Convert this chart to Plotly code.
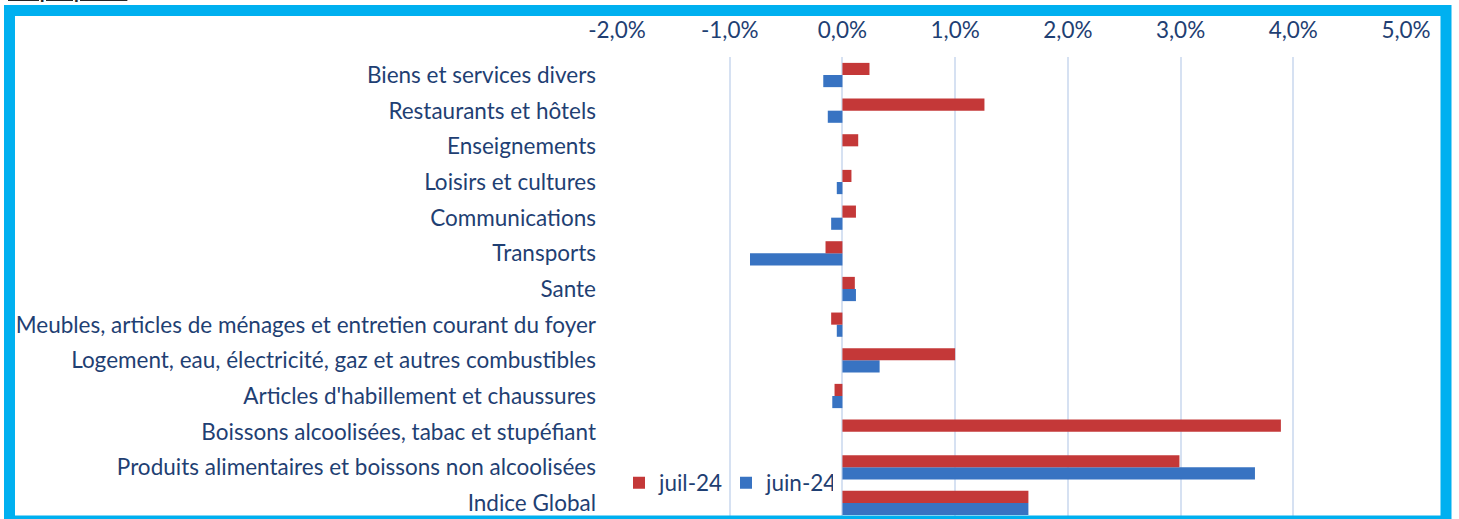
import plotly.graph_objects as go

categories = [
    "Indice Global",
    "Produits alimentaires et boissons non alcoolisées",
    "Boissons alcoolisées, tabac et stupéfiant",
    "Articles d'habillement et chaussures",
    "Logement, eau, électricité, gaz et autres combustibles",
    "Meubles, articles de ménages et entretien courant du foyer",
    "Sante",
    "Transports",
    "Communications",
    "Loisirs et cultures",
    "Enseignements",
    "Restaurants et hôtels",
    "Biens et services divers",
]
juil_24 = [1.65, 2.99, 3.89, -0.07, 1.00, -0.10, 0.11, -0.15, 0.12, 0.08, 0.14, 1.26, 0.24]
juin_24 = [1.65, 3.66, 0.00, -0.09, 0.33, -0.05, 0.12, -0.82, -0.10, -0.05, 0.00, -0.13, -0.17]
tick_vals = [-2, -1, 0, 1, 2, 3, 4, 5]
tick_text = ["-2,0%", "-1,0%", "0,0%", "1,0%", "2,0%", "3,0%", "4,0%", "5,0%"]

TEXT = "#1F3F73"
FONT = "Lato"
FS = 22.5

fig = go.Figure()
fig.add_trace(go.Bar(y=categories, x=juin_24, orientation="h", name="juin-24",
                     marker=dict(color="#3873C2", line=dict(width=0)), legendrank=2))
fig.add_trace(go.Bar(y=categories, x=juil_24, orientation="h", name="juil-24",
                     marker=dict(color="#C43838", line=dict(width=0)), legendrank=1))

W, H = 1459, 519
L, R, T, B = 617, 53, 57, 0
pw = W - L - R
ph = H - T - B

fig.update_layout(
    width=W, height=H,
    margin=dict(l=L, r=R, t=T, b=B, autoexpand=False),
    paper_bgcolor="white", plot_bgcolor="white",
    barmode="group", bargap=0.32, bargroupgap=0,
    font=dict(family=FONT, size=FS, color=TEXT),
    showlegend=True,
    legend=dict(orientation="h", x=(619 - L) / pw, xanchor="left", y=(H - 483 - B) / ph, yanchor="middle",
                font=dict(size=FS, color=TEXT), bgcolor="rgba(0,0,0,0)", itemwidth=30,
                entrywidth=62, entrywidthmode="pixels", traceorder="normal"),
    xaxis=dict(side="top", range=[-2, 5], tickvals=tick_vals, ticktext=tick_text,
               showgrid=True, gridcolor="#D6E1F2", gridwidth=2, zeroline=False,
               showline=False, ticks="", ticklabelstandoff=14,
               tickfont=dict(size=FS, color=TEXT), automargin=False),
    yaxis=dict(type="category", range=[-0.449, 12.505], showgrid=False, zeroline=False,
               showline=False, ticks="", ticklabelstandoff=20,
               tickfont=dict(size=FS, color=TEXT), automargin=False),
)

# outer frame
fig.add_shape(type="rect", xref="paper", yref="paper",
              x0=(9.5 - L) / pw, x1=(1446 - L) / pw,
              y0=(H - 521 - B) / ph, y1=(H - 10.5 - B) / ph,
              line=dict(color="#00B0F0", width=11), fillcolor="rgba(0,0,0,0)", layer="above")

fig.add_annotation(xref="paper", yref="paper", x=(6 - L) / pw, xanchor="left",
                   y=(H - 4 - B) / ph, yanchor="bottom", showarrow=False,
                   text="<b><u>Graphique 1 :</u></b> <b>Variation mensuelle des indices des fonctions</b>",
                   font=dict(family=FONT, size=20, color="#262626"))

fig.write_html("out.html", config={"displayModeBar": False},
               post_script="document.body.style.margin='0';")
